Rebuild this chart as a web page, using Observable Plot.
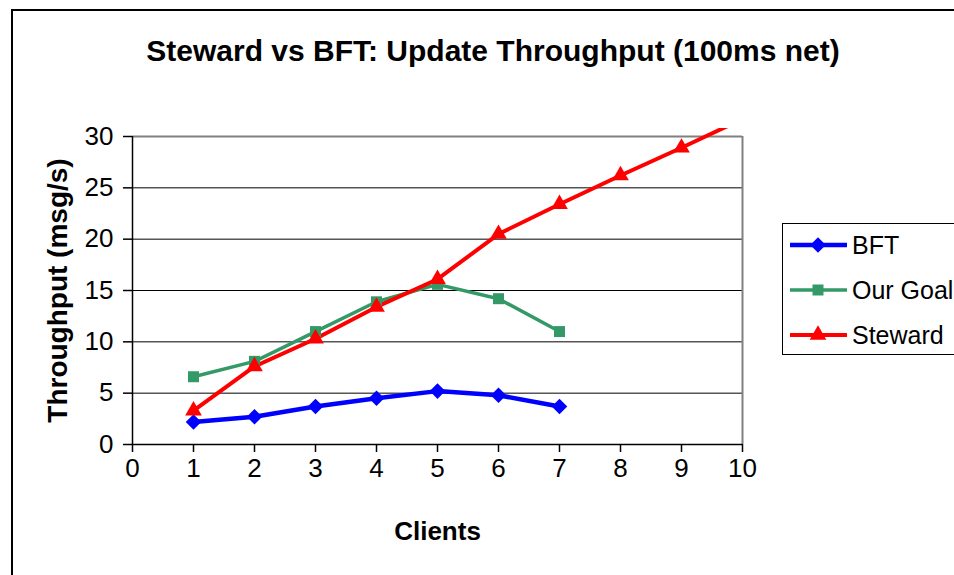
<!DOCTYPE html>
<html><head><meta charset="utf-8">
<script src="https://cdn.jsdelivr.net/npm/d3@7"></script>
<script src="https://cdn.jsdelivr.net/npm/@observablehq/plot@0.6"></script>
<style>
body{margin:0;background:#fff;}
#wrap{position:relative;width:954px;height:575px;overflow:hidden;background:#fff;}
#wrap svg{position:absolute;left:0;top:0;}
</style></head>
<body><div id="wrap"></div>
<script>
const titleText = "Steward vs BFT: Update Throughput (100ms net)";
const xLabel = "Clients";
const yLabel = "Throughput (msg/s)";
const xTicks = [0,1,2,3,4,5,6,7,8,9,10];
const yTicks = [0,5,10,15,20,25,30];
const gridValues = [5,10,15,20,25];
const clients = [1,2,3,4,5,6,7,8,9,10];
const seriesNames = ["BFT","Our Goal","Steward"];
const seriesColors = ["#0000FF","#339966","#FF0000"];
const seriesSymbols = ["diamond2","square","triangle"];
const bft = [2.2, 2.7, 3.7, 4.5, 5.2, 4.8, 3.7];
const ourGoal = [6.6, 8.1, 11.0, 13.9, 15.6, 14.2, 11.0];
const steward = [3.3, 7.6, 10.3, 13.4, 16.1, 20.5, 23.4, 26.2, 28.9, 31.7];

const FONT = '"Liberation Sans", Arial, sans-serif';
const seriesValues = [bft, ourGoal, steward];
const rows = [];
seriesValues.forEach((vals, i) => vals.forEach((v, j) => rows.push({series: seriesNames[i], x: clients[j], y: v})));

const lineWidths = [4.5, 3.5, 4];
const dotR = [7.0, 6.2, 6.2];

const marks = [
  Plot.ruleY(gridValues, {stroke: "#000", strokeWidth: 1}),
  Plot.ruleY([30], {stroke: "#808080", strokeWidth: 2}),
  Plot.ruleX([10], {stroke: "#808080", strokeWidth: 2}),
  Plot.ruleX([0], {stroke: "#000", strokeWidth: 1.5}),
  Plot.ruleY([0], {stroke: "#000", strokeWidth: 1.5}),
  Plot.axisY({ticks: yTicks, tickSize: 9, tickPadding: 10, label: null, fontSize: 26, strokeWidth: 1.5}),
  Plot.axisX({ticks: xTicks, tickSize: 8, tickPadding: 6, label: null, fontSize: 26, strokeWidth: 1.5}),
  Plot.text([yLabel], {frameAnchor: "left", dx: -74, rotate: -90, textAnchor: "middle", lineAnchor: "middle", fontWeight: "bold", fontSize: 28}),
  Plot.text([xLabel], {frameAnchor: "bottom", dy: 87, textAnchor: "middle", lineAnchor: "middle", fontWeight: "bold", fontSize: 26})
];
seriesNames.forEach((name, i) => {
  const data = rows.filter(d => d.series === name);
  marks.push(Plot.line(data, {x: "x", y: "y", stroke: seriesColors[i], strokeWidth: lineWidths[i], clip: true}));
});
seriesNames.forEach((name, i) => {
  const data = rows.filter(d => d.series === name && d.y <= 30);
  marks.push(Plot.dot(data, {x: "x", y: "y", symbol: () => seriesSymbols[i], fill: seriesColors[i], stroke: "none", r: dotR[i]}));
});

const chart = Plot.plot({
  width: 954, height: 575,
  marginLeft: 132, marginRight: 212, marginTop: 136, marginBottom: 131,
  style: {fontFamily: FONT, fontSize: "26px", color: "#000", background: "transparent", overflow: "visible"},
  x: {domain: [0, 10]},
  y: {domain: [0, 30]},
  symbol: {type: "identity"},
  marks
});
// let the Steward line run a little past the top of the plot area, as in the original
d3.select(chart).selectAll("clipPath rect").each(function() {
  const r = d3.select(this);
  r.attr("y", +r.attr("y") - 8).attr("height", +r.attr("height") + 8);
});

const wrap = document.getElementById("wrap");
wrap.appendChild(chart);

// overlay: outer frame, title, legend
const ov = d3.create("svg").attr("width", 954).attr("height", 575).style("font-family", FONT).style("pointer-events", "none");
ov.append("path").attr("d", "M12,575V10H954").attr("fill", "none").attr("stroke", "#000").attr("stroke-width", 2);
ov.append("text").attr("x", 493).attr("y", 61).attr("text-anchor", "middle")
  .attr("font-weight", "bold").attr("font-size", 30).attr("fill", "#000").text(titleText);

const lg = ov.append("g");
lg.append("rect").attr("x", 782.5).attr("y", 223.5).attr("width", 200).attr("height", 131)
  .attr("fill", "#fff").attr("stroke", "#000").attr("stroke-width", 1);
seriesNames.forEach((name, i) => {
  const cy = 245 + i * 45;
  lg.append("line").attr("x1", 790).attr("x2", 847).attr("y1", cy).attr("y2", cy)
    .attr("stroke", seriesColors[i]).attr("stroke-width", lineWidths[i]);
  const sym = {diamond2: d3.symbolDiamond2, square: d3.symbolSquare, triangle: d3.symbolTriangle}[seriesSymbols[i]];
  lg.append("path").attr("transform", `translate(818,${cy})`)
    .attr("d", d3.symbol(sym, Math.PI * dotR[i] * dotR[i])()).attr("fill", seriesColors[i]);
  lg.append("text").attr("x", 852).attr("y", cy + 9).attr("font-size", 25).attr("fill", "#000").text(name);
});
wrap.appendChild(ov.node());
</script>
</body></html>
